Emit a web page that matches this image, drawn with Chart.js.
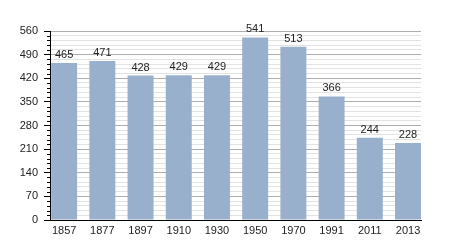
<!DOCTYPE html>
<html>
<head>
<meta charset="utf-8">
<script src="https://cdn.jsdelivr.net/npm/chart.js@4"></script>
<style>
  body { margin: 0; background: #fff; }
</style>
</head>
<body>
<canvas id="myChart" width="450" height="250"></canvas>
<script>
const years = ['1857', '1877', '1897', '1910', '1930', '1950', '1970', '1991', '2011', '2013']
const population = [465, 471, 428, 429, 429, 541, 513, 366, 244, 228]
const yMax = 560
const majorStep = 70
const minorStep = 14

// minor tick marks on the y axis + value labels above the bars
const extras = {
  id: 'extras',
  afterDraw(chart) {
    const ctx = chart.ctx
    const y = chart.scales.y
    ctx.save()
    ctx.strokeStyle = '#000'
    ctx.lineWidth = 1
    y.ticks.forEach(t => {
      if (t.value % majorStep === 0) return
      const py = Math.round(y.getPixelForValue(t.value)) + 0.5
      ctx.beginPath()
      ctx.moveTo(y.right - 3, py)
      ctx.lineTo(y.right, py)
      ctx.stroke()
    })
    const meta = chart.getDatasetMeta(0)
    ctx.font = '11px "Liberation Sans", Arial, sans-serif'
    ctx.fillStyle = '#222'
    ctx.textAlign = 'center'
    ctx.textBaseline = 'alphabetic'
    meta.data.forEach((bar, i) => {
      ctx.fillText(population[i], bar.x, bar.y - 5)
    })
    ctx.restore()
  }
}

const ctx = document.getElementById('myChart')

new Chart(ctx, {
  type: 'bar',
  data: {
    datasets: [{
      data: population.map((v, i) => ({ x: i, y: v })),
      backgroundColor: '#98b0cb',
      borderWidth: 0,
      barPercentage: 0.68,
      categoryPercentage: 1
    }]
  },
  options: {
    responsive: false,
    animation: false,
    layout: { padding: { top: 31, right: 29, left: 0, bottom: 0 } },
    plugins: {
      legend: { display: false },
      tooltip: { enabled: false }
    },
    scales: {
      x: {
        type: 'linear',
        offset: false,
        min: -0.37,
        max: 9.34,
        afterBuildTicks: scale => {
          scale.ticks = years.map((_, i) => ({ value: i }))
        },
        afterFit: scale => { scale.height = 30 },
        grid: { display: false, drawTicks: false, offset: false },
        border: { display: true, color: '#000', width: 1 },
        ticks: {
          autoSkip: false,
          maxRotation: 0,
          padding: 4,
          color: '#222',
          font: { family: '"Liberation Sans", Arial, sans-serif', size: 11 },
          callback: v => years[v]
        }
      },
      y: {
        min: 0,
        max: yMax,
        afterFit: scale => { scale.width = 50 },
        grid: {
          color: c => (c.tick && c.tick.value % majorStep === 0) ? '#adadad' : '#e2e2e2',
          tickColor: c => (c.tick && c.tick.value % majorStep === 0) ? '#000' : 'rgba(0,0,0,0)',
          tickLength: 6
        },
        border: { display: true, color: '#000', width: 1 },
        ticks: {
          stepSize: minorStep,
          maxTicksLimit: 100,
          autoSkip: false,
          padding: 6,
          color: '#222',
          font: { family: '"Liberation Sans", Arial, sans-serif', size: 11 },
          callback: v => v % majorStep === 0 ? v : ''
        }
      }
    }
  },
  plugins: [extras]
})
</script>
</body>
</html>
